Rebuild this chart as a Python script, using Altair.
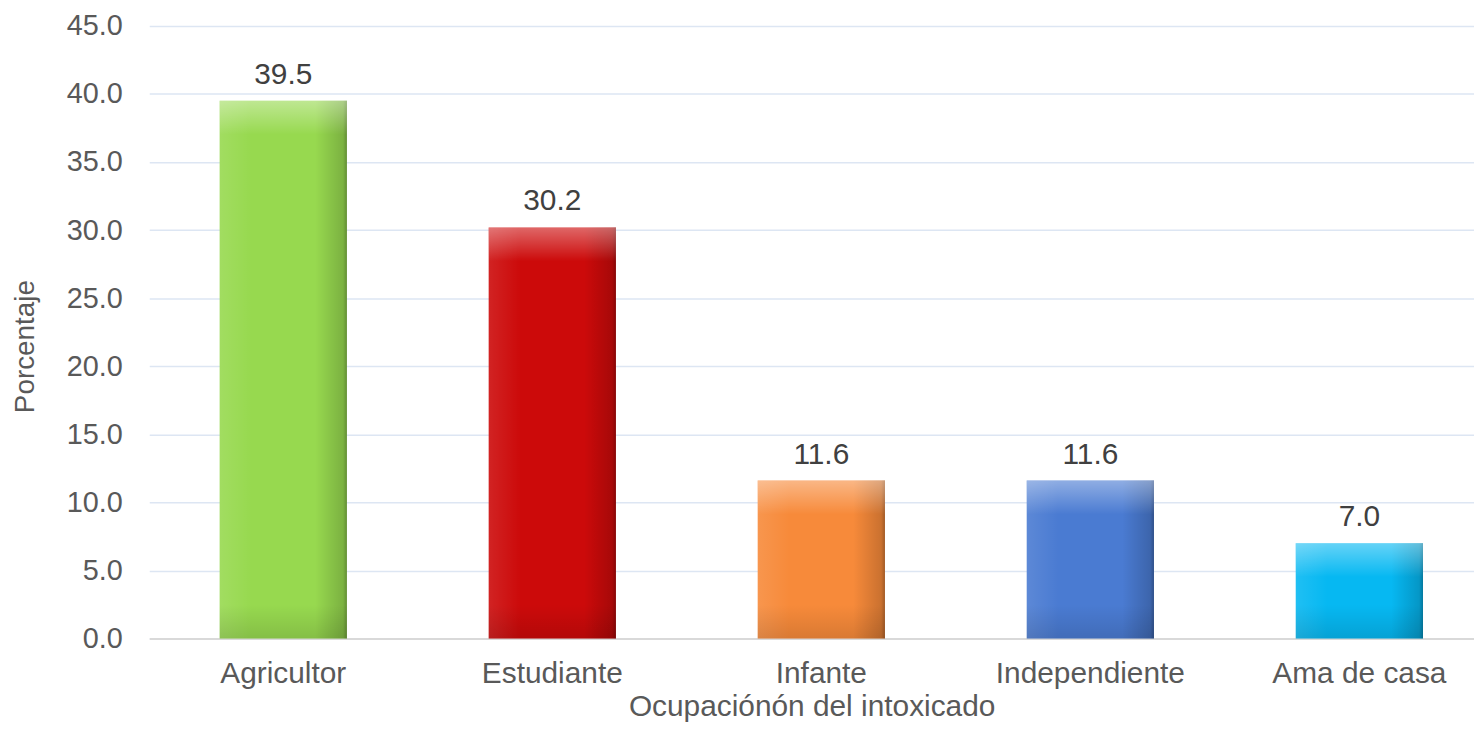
import altair as alt
import pandas as pd

categories = ["Agricultor", "Estudiante", "Infante", "Independiente", "Ama de casa"]
values = [39.5, 30.2, 11.6, 11.6, 7.0]
colors = ["#97d94f", "#cc0a0a", "#f78a3a", "#4a7bd2", "#06b8f2"]
y_ticks = [0, 5, 10, 15, 20, 25, 30, 35, 40, 45]

df = pd.DataFrame({"cat": categories, "val": values})

FONT = "Liberation Sans"
TXT = "#595959"

xenc = alt.X(
    "cat:N",
    sort=categories,
    scale=alt.Scale(paddingInner=0.527, paddingOuter=0.2257, align=0.58),
    axis=alt.Axis(
        title="Ocupaciónón del intoxicado",
        labelAngle=0,
        labelFontSize=30,
        labelColor=TXT,
        labelFont=FONT,
        labelPadding=20,
        labelLimit=400,
        ticks=False,
        grid=False,
        domain=True,
        domainColor="#d9d9d9",
        domainWidth=2,
        titleFontSize=30,
        titleFont=FONT,
        titleColor=TXT,
        titleFontWeight="normal",
        titleBaseline="middle",
        titleY=68,
    ),
)

yenc = alt.Y(
    "val:Q",
    scale=alt.Scale(domain=[0, 45], nice=False),
    axis=alt.Axis(
        title="Porcentaje",
        values=y_ticks,
        format=".1f",
        labelFontSize=29,
        labelColor=TXT,
        labelFont=FONT,
        labelPadding=27,
        ticks=False,
        domain=False,
        gridColor="#dde6f3",
        gridWidth=1.5,
        titleFontSize=28,
        titleFont=FONT,
        titleColor=TXT,
        titleFontWeight="normal",
        titleBaseline="middle",
        titleX=-124,
        titleY=322,
    ),
)

base = alt.Chart(df)

bars = base.mark_bar().encode(
    x=xenc,
    y=yenc,
    color=alt.Color("cat:N", scale=alt.Scale(domain=categories, range=colors), legend=None),
)

side = base.mark_bar(
    color=alt.Gradient(
        gradient="linear",
        x1=0, y1=0, x2=1, y2=0,
        stops=[
            alt.GradientStop(offset=0, color="rgba(255,255,255,0.10)"),
            alt.GradientStop(offset=0.25, color="rgba(255,255,255,0.0)"),
            alt.GradientStop(offset=0.75, color="rgba(0,0,0,0.0)"),
            alt.GradientStop(offset=0.97, color="rgba(0,0,0,0.18)"),
            alt.GradientStop(offset=1, color="rgba(0,0,0,0.35)"),
        ],
    )
).encode(x=alt.X("cat:N", sort=categories), y="val:Q")

top = base.mark_bar(
    y2Offset=34,
    color=alt.Gradient(
        gradient="linear",
        x1=0, y1=0, x2=0, y2=1,
        stops=[
            alt.GradientStop(offset=0, color="rgba(255,255,255,0.38)"),
            alt.GradientStop(offset=1, color="rgba(255,255,255,0.0)"),
        ],
    )
).encode(x=alt.X("cat:N", sort=categories), y="val:Q", y2="val:Q")

bottom = base.mark_bar(
    y2Offset=-34,
    color=alt.Gradient(
        gradient="linear",
        x1=0, y1=0, x2=0, y2=1,
        stops=[
            alt.GradientStop(offset=0, color="rgba(0,0,0,0.0)"),
            alt.GradientStop(offset=1, color="rgba(0,0,0,0.12)"),
        ],
    )
).encode(x=alt.X("cat:N", sort=categories), y=alt.datum(0), y2=alt.datum(0))

labels = base.mark_text(
    dy=-11, baseline="bottom", fontSize=30, font=FONT, color="#404040"
).encode(
    x=alt.X("cat:N", sort=categories),
    y="val:Q",
    text=alt.Text("val:Q", format=".1f"),
)

chart = (
    alt.layer(bars, side, top, bottom, labels)
    .properties(
        width=1332,
        height=616,
        autosize=alt.AutoSizeParams(type="none"),
        padding={"left": 142, "top": 16, "right": 0, "bottom": 97},
        background="white",
    )
    .configure_view(strokeWidth=0, stroke="transparent")
    .configure_axis(domain=False)
    .configure_axisX(grid=False)
)

chart.save("out.html", embed_options={"renderer": "svg", "actions": False})
